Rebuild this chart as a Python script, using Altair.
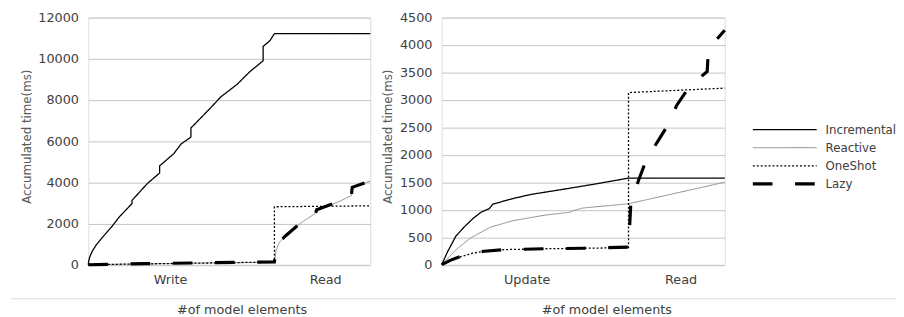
import altair as alt
import pandas as pd

SERIES = ["Incremental", "Reactive", "OneShot", "Lazy"]
SERIES_COLORS = ["#000000", "#8a8a8a", "#000000", "#000000"]
SERIES_DASH = [[1, 0], [1, 0], [2, 2], [20, 23]]
SERIES_WIDTH = [1.3, 1.0, 1.3, 3.2]

# ---- Left panel: Write / Read (x runs 0..100 over the workload) ----
left_incremental_x = [0, 0.2, 0.56, 1.4, 2.7, 5, 8.5, 11, 15.5, 15.5, 21, 25.3, 25.3, 30.3, 32.9,
                      36.4, 36.4, 38.1, 43.4, 47, 52.7, 57.3, 62, 62, 64.3, 66, 100]
left_incremental_y = [0, 220, 390, 650, 938, 1330, 1875, 2320, 2970, 3125, 3950, 4453, 4800, 5390, 5860,
                      6200, 6640, 6877, 7620, 8150, 8750, 9375, 9900, 10600, 10860, 11220, 11220]

left_reactive_x = [0, 20, 40, 66, 66.2, 66.6, 67.8, 70.1, 75.4, 80.6, 81, 88.7, 93.3, 93.6, 100]
left_reactive_y = [0, 40, 80, 120, 300, 703, 1094, 1406, 2031, 2500, 2656, 3050, 3360, 3750, 4063]

left_oneshot_x = [0, 66, 66, 100]
left_oneshot_y = [0, 130, 2813, 2860]

left_lazy_x = [0, 20, 40, 66, 66.2, 66.6, 67.8, 70.1, 75.4, 80.6, 81, 88.7, 93.3, 93.6, 100]
left_lazy_y = [0, 50, 90, 140, 320, 720, 1110, 1420, 2040, 2510, 2670, 3060, 3370, 3760, 4070]

# ---- Right panel: Update / Read ----
right_incremental_x = [0, 2, 5, 8, 11, 14, 16.8, 18, 24, 31.3, 42.9, 54.5, 66, 100]
right_incremental_y = [0, 230, 520, 690, 840, 960, 1020, 1100, 1190, 1278, 1373, 1472, 1577, 1577]

right_reactive_x = [0, 5, 10, 17, 25, 36.5, 45.2, 46.5, 49.8, 66, 100]
right_reactive_y = [0, 270, 480, 680, 800, 903, 955, 985, 1032, 1110, 1502]

right_oneshot_x = [0, 3, 7, 11, 15, 22, 36, 50, 66, 66, 100]
right_oneshot_y = [0, 70, 150, 210, 245, 275, 290, 300, 310, 3134, 3215]

right_lazy_x = [0, 3, 7, 11, 15, 22, 36, 50, 66, 66.3, 66.8, 69.5, 72, 76, 80, 83, 86.3, 92,
                93.8, 94.1, 97.3, 100]
right_lazy_y = [0, 80, 160, 215, 245, 275, 290, 300, 320, 600, 1100, 1530, 1870, 2220, 2550,
                2900, 3150, 3440, 3520, 3790, 4110, 4270]

left_ticks = [0, 2000, 4000, 6000, 8000, 10000, 12000]
right_ticks = [0, 500, 1000, 1500, 2000, 2500, 3000, 3500, 4000, 4500]

rows = []


def add(panel, series, xs, ys):
    for i, (a, b) in enumerate(zip(xs, ys)):
        rows.append({"panel": panel, "series": series, "x": a, "y": b, "idx": i})


add("L", "Incremental", left_incremental_x, left_incremental_y)
add("L", "Reactive", left_reactive_x, left_reactive_y)
add("L", "OneShot", left_oneshot_x, left_oneshot_y)
add("L", "Lazy", left_lazy_x, left_lazy_y)
add("R", "Incremental", right_incremental_x, right_incremental_y)
add("R", "Reactive", right_reactive_x, right_reactive_y)
add("R", "OneShot", right_oneshot_x, right_oneshot_y)
add("R", "Lazy", right_lazy_x, right_lazy_y)
df = pd.DataFrame(rows)

FONT = "DejaVu Sans"
H = 251.5
LEG = alt.Legend(
    title=None, orient="none", legendX=674.3, legendY=106,
    symbolType="stroke", symbolSize=4225, clipHeight=16, rowPadding=2.4,
    labelFont=FONT, labelFontSize=12, labelColor="#404040", labelOffset=7,
)


def panel(data, ymax, ticks, x_labels, x_label_vals, title_x, ytitle_x):
    expr = f"datum.value < 50 ? '{x_labels[0]}' : '{x_labels[1]}'"
    lines = alt.Chart(data).mark_line().encode(
        x=alt.X("x:Q", scale=alt.Scale(domain=[0, 100], nice=False, zero=False),
                axis=alt.Axis(values=x_label_vals, labelExpr=expr, grid=False, ticks=False,
                              domain=False, labelPadding=9, labelFontSize=13, labelFont=FONT,
                              labelColor="#404040", title="#of model elements",
                              titleFont=FONT, titleFontSize=13, titleFontWeight="normal",
                              titleColor="#404040", titleX=title_x, titleY=49.5,
                              titleAlign="center", titleBaseline="alphabetic")),
        y=alt.Y("y:Q", scale=alt.Scale(domain=[0, ymax], nice=False),
                axis=alt.Axis(values=ticks, format="d", grid=True, gridColor="#c4c4c4", ticks=False,
                              domain=False, labelPadding=10, labelFontSize=13, labelFont=FONT,
                              labelColor="#404040", title="Accumulated time(ms)",
                              titleFont=FONT, titleFontSize=12, titleFontWeight="normal",
                              titleColor="#595959", titleX=ytitle_x, titleY=H / 2 - 5,
                              titleAngle=-90, titleAlign="center",
                              titleBaseline="alphabetic")),
        color=alt.Color("series:N", scale=alt.Scale(domain=SERIES, range=SERIES_COLORS), legend=LEG),
        strokeDash=alt.StrokeDash("series:N", scale=alt.Scale(domain=SERIES, range=SERIES_DASH), legend=LEG),
        strokeWidth=alt.StrokeWidth("series:N",
                                    scale=alt.Scale(type="ordinal", domain=SERIES, range=SERIES_WIDTH),
                                    legend=LEG),
        order="idx:Q",
    )
    return lines


left = panel(df[df.panel == "L"], 12000, left_ticks, ["Write", "Read"], [29, 84], 156, -59)
sep = alt.Chart(pd.DataFrame({"a": [0]})).mark_rule(color="#d9d9d9", strokeWidth=1).encode(
    x=alt.value(-78.7), x2=alt.value(823.3), y=alt.value(H + 34.7)
)
left = alt.layer(left, sep).properties(width=287, height=H)
right = panel(df[df.panel == "R"], 4500, right_ticks, ["Update", "Read"], [30, 84.4], 167.5, -51.5).properties(
    width=288, height=H)

chart = alt.hconcat(left, right, spacing=72.7, bounds="flush").properties(
    padding={"left": 1.7, "top": 0, "right": -3, "bottom": 0}
).configure_view(stroke="#c4c4c4", strokeWidth=1).configure(font=FONT)

chart.save("out.html", embed_options={"renderer": "svg", "actions": False})
